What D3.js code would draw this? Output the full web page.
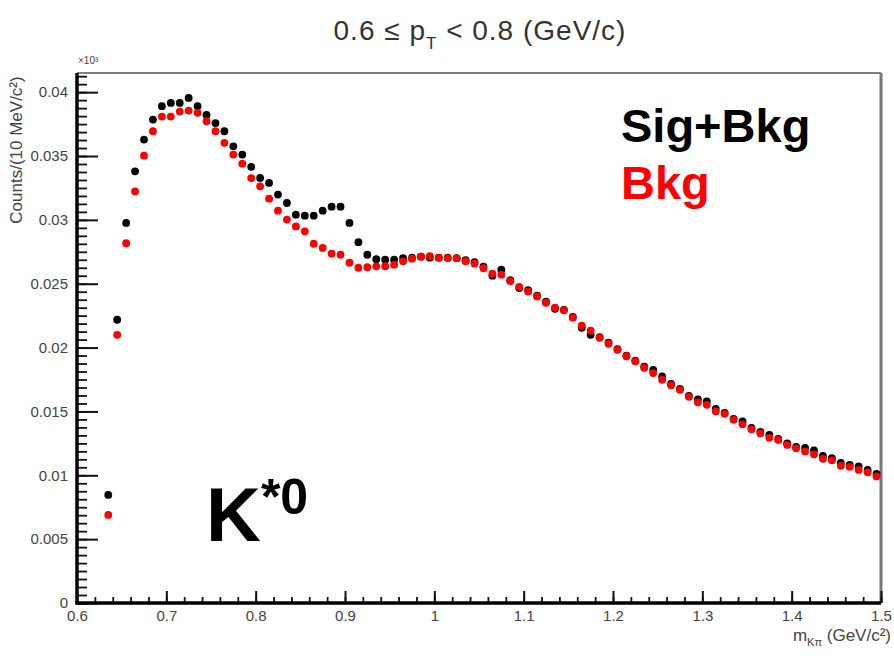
<!DOCTYPE html>
<html>
<head>
<meta charset="utf-8">
<script src="https://cdn.jsdelivr.net/npm/d3@7"></script>
<style>
  body { margin: 0; background: #fff; }
  svg { display: block; font-family: "Liberation Sans", Arial, sans-serif; }
</style>
</head>
<body>
<script>
// bin centres of the K pi invariant mass (GeV/c^2), 10 MeV bins
const mass = [
  0.635, 0.645, 0.655, 0.665, 0.675, 0.685, 0.695, 0.705, 0.715, 0.725,
  0.735, 0.745, 0.755, 0.765, 0.775, 0.785, 0.795, 0.805, 0.815, 0.825,
  0.835, 0.845, 0.855, 0.865, 0.875, 0.885, 0.895, 0.905, 0.915, 0.925,
  0.935, 0.945, 0.955, 0.965, 0.975, 0.985, 0.995, 1.005, 1.015, 1.025,
  1.035, 1.045, 1.055, 1.065, 1.075, 1.085, 1.095, 1.105, 1.115, 1.125,
  1.135, 1.145, 1.155, 1.165, 1.175, 1.185, 1.195, 1.205, 1.215, 1.225,
  1.235, 1.245, 1.255, 1.265, 1.275, 1.285, 1.295, 1.305, 1.315, 1.325,
  1.335, 1.345, 1.355, 1.365, 1.375, 1.385, 1.395, 1.405, 1.415, 1.425,
  1.435, 1.445, 1.455, 1.465, 1.475, 1.485, 1.495
]

// same-event pairs (signal + background), counts x10^3
const sigBkg = [
  0.00846, 0.02218, 0.02976, 0.03380, 0.03629, 0.03785, 0.03890, 0.03916, 0.03916, 0.03955,
  0.03890, 0.03821, 0.03758, 0.03694, 0.03576, 0.03511, 0.03415, 0.03328, 0.03289, 0.03198,
  0.03132, 0.03041, 0.03033, 0.03033, 0.03072, 0.03103, 0.03103, 0.02976, 0.02825, 0.02727,
  0.02692, 0.02688, 0.02688, 0.02701, 0.02704, 0.02712, 0.02704, 0.02704, 0.02704, 0.02700,
  0.02684, 0.02669, 0.02633, 0.02563, 0.02610, 0.02527, 0.02466, 0.02449, 0.02406, 0.02359,
  0.02304, 0.02296, 0.02241, 0.02155, 0.02100, 0.02081, 0.02038, 0.01987, 0.01936, 0.01897,
  0.01850, 0.01826, 0.01774, 0.01716, 0.01677, 0.01622, 0.01595, 0.01578, 0.01520, 0.01489,
  0.01442, 0.01421, 0.01371, 0.01340, 0.01317, 0.01285, 0.01250, 0.01223, 0.01215, 0.01195,
  0.01152, 0.01134, 0.01097, 0.01082, 0.01070, 0.01042, 0.01011
]

// mixed-event background
const bkg = [
  0.00690, 0.02100, 0.02817, 0.03223, 0.03503, 0.03694, 0.03809, 0.03809, 0.03848, 0.03856,
  0.03838, 0.03772, 0.03694, 0.03603, 0.03511, 0.03440, 0.03327, 0.03263, 0.03166, 0.03072,
  0.03002, 0.02949, 0.02910, 0.02813, 0.02780, 0.02735, 0.02727, 0.02665, 0.02625, 0.02629,
  0.02636, 0.02637, 0.02649, 0.02675, 0.02696, 0.02712, 0.02716, 0.02704, 0.02701, 0.02700,
  0.02676, 0.02657, 0.02621, 0.02578, 0.02571, 0.02520, 0.02476, 0.02440, 0.02400, 0.02351,
  0.02312, 0.02292, 0.02234, 0.02171, 0.02132, 0.02077, 0.02030, 0.01983, 0.01932, 0.01893,
  0.01842, 0.01800, 0.01748, 0.01705, 0.01669, 0.01614, 0.01571, 0.01552, 0.01501, 0.01481,
  0.01434, 0.01399, 0.01360, 0.01328, 0.01293, 0.01277, 0.01238, 0.01211, 0.01187, 0.01164,
  0.01129, 0.01117, 0.01074, 0.01066, 0.01042, 0.01023, 0.00991
]

const xTicks = [0.6, 0.7, 0.8, 0.9, 1.0, 1.1, 1.2, 1.3, 1.4, 1.5]
const xTickLabels = ['0.6', '0.7', '0.8', '0.9', '1', '1.1', '1.2', '1.3', '1.4', '1.5']
const yTicks = [0, 0.005, 0.01, 0.015, 0.02, 0.025, 0.03, 0.035, 0.04]
const yTickLabels = ['0', '0.005', '0.01', '0.015', '0.02', '0.025', '0.03', '0.035', '0.04']

/*
* Mise en page
*/
const WIDTH = 894
const HEIGHT = 656
const LEFT = 77, RIGHT = 881, TOP = 73, BOTTOM = 603

const svg = d3.select('body').append('svg')
  .attr('width', WIDTH)
  .attr('height', HEIGHT)

const xScale = d3.scaleLinear().domain([0.6, 1.5]).range([LEFT, RIGHT])
const yScale = d3.scaleLinear().domain([0, 0.0415]).range([BOTTOM, TOP])

// cadre : haut fin, droite grise
svg.append('line')
  .attr('x1', LEFT).attr('x2', RIGHT).attr('y1', TOP).attr('y2', TOP)
  .attr('stroke', '#555').attr('stroke-width', 1.5)
svg.append('line')
  .attr('x1', RIGHT).attr('x2', RIGHT).attr('y1', TOP).attr('y2', BOTTOM)
  .attr('stroke', '#777').attr('stroke-width', 3)

/*
* Axe vertical
*/
const yMinor = d3.range(0, 0.0415, 0.000625)
svg.append('g')
  .attr('transform', `translate(${LEFT},0)`)
  .call(d3.axisLeft(yScale).tickValues(yMinor).tickSize(-10).tickFormat(''))
  .call(g => g.select('.domain').remove())
  .selectAll('line').attr('stroke', '#111').attr('stroke-width', 1.8)

svg.append('g')
  .attr('transform', `translate(${LEFT},0)`)
  .call(d3.axisLeft(yScale).tickValues(yTicks).tickSize(-21).tickPadding(9)
    .tickFormat((d, i) => yTickLabels[i]))
  .call(g => g.select('.domain').remove())
  .call(g => g.selectAll('line').attr('stroke', '#111').attr('stroke-width', 2))
  .call(g => g.selectAll('text')
    .attr('font-size', 15).attr('fill', '#444')
    .attr('font-family', '"Liberation Sans", Arial, sans-serif'))

svg.append('line')
  .attr('x1', LEFT).attr('x2', LEFT).attr('y1', TOP).attr('y2', BOTTOM + 1.5)
  .attr('stroke', '#000').attr('stroke-width', 3.5)

/*
* Axe horizontal
*/
const xMinor = d3.range(0.6, 1.5001, 0.02)
svg.append('g')
  .attr('transform', `translate(0,${BOTTOM})`)
  .call(d3.axisBottom(xScale).tickValues(xMinor).tickSize(-6).tickFormat(''))
  .call(g => g.select('.domain').remove())
  .selectAll('line').attr('stroke', '#111').attr('stroke-width', 1.8)

svg.append('g')
  .attr('transform', `translate(0,${BOTTOM})`)
  .call(d3.axisBottom(xScale).tickValues(xTicks).tickSize(-12).tickPadding(7)
    .tickFormat((d, i) => xTickLabels[i]))
  .call(g => g.select('.domain').remove())
  .call(g => g.selectAll('line').attr('stroke', '#111').attr('stroke-width', 2))
  .call(g => g.selectAll('text')
    .attr('font-size', 15).attr('fill', '#444')
    .attr('font-family', '"Liberation Sans", Arial, sans-serif'))

svg.append('line')
  .attr('x1', LEFT - 1.5).attr('x2', RIGHT).attr('y1', BOTTOM).attr('y2', BOTTOM)
  .attr('stroke', '#000').attr('stroke-width', 3.5)

/*
* Points
*/
const points = svg.append('g')
points.selectAll('circle.sb')
  .data(sigBkg)
  .enter()
  .append('circle')
  .attr('class', 'sb')
  .attr('cx', (d, i) => xScale(mass[i]))
  .attr('cy', d => yScale(d))
  .attr('r', 3.9)
  .attr('fill', '#000')

points.selectAll('circle.bk')
  .data(bkg)
  .enter()
  .append('circle')
  .attr('class', 'bk')
  .attr('cx', (d, i) => xScale(mass[i]))
  .attr('cy', d => yScale(d))
  .attr('r', 3.9)
  .attr('fill', '#ff0000')

/*
* Textes
*/
const title = svg.append('text')
  .attr('x', 480).attr('y', 40)
  .attr('text-anchor', 'middle')
  .attr('font-size', 28)
  .attr('letter-spacing', 1)
  .attr('fill', '#333')
title.append('tspan').text('0.6 ≤ p')
title.append('tspan').attr('font-size', 17).attr('dy', 9).text('T')
title.append('tspan').attr('dy', -9).text(' < 0.8 (GeV/c)')

svg.append('text')
  .attr('x', 78).attr('y', 64)
  .attr('font-size', 10).attr('fill', '#444')
  .text('×10³')

svg.append('text')
  .attr('transform', 'translate(22,150) rotate(-90)')
  .attr('text-anchor', 'middle')
  .attr('font-size', 17).attr('fill', '#444')
  .text('Counts/(10 MeV/c²)')

const xTitle = svg.append('text')
  .attr('x', 891).attr('y', 641)
  .attr('text-anchor', 'end')
  .attr('font-size', 17).attr('fill', '#444')
xTitle.append('tspan').text('m')
xTitle.append('tspan').attr('font-size', 11).attr('dy', 5).text('Kπ')
xTitle.append('tspan').attr('dy', -5).text(' (GeV/c²)')

svg.append('text')
  .attr('x', 621).attr('y', 142)
  .attr('font-size', 47).attr('font-weight', 'bold').attr('fill', '#000')
  .text('Sig+Bkg')

svg.append('text')
  .attr('x', 621).attr('y', 199)
  .attr('font-size', 47).attr('font-weight', 'bold').attr('fill', '#ff0000')
  .text('Bkg')

const kstar = svg.append('text')
  .attr('x', 206).attr('y', 541)
  .attr('font-size', 76).attr('font-weight', 'bold').attr('fill', '#000')
kstar.append('tspan').text('K')
kstar.append('tspan').attr('font-size', 50).attr('dy', -27).text('*0')
</script>
</body>
</html>
